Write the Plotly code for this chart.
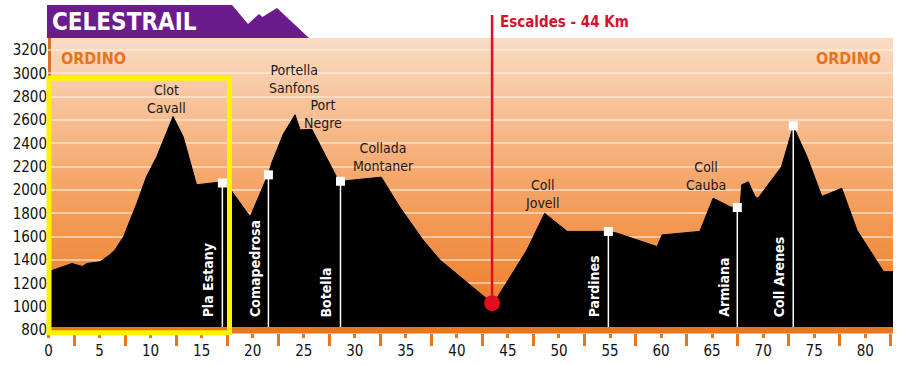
import plotly.graph_objects as go

# ---------------- data ----------------
km = [0, 2.3, 3.3, 3.75, 5.05, 6.0, 6.5, 7.35, 8.65, 9.6, 10.6, 12.2, 13.2, 14.5, 16.5,
      17.0, 17.5, 18.1, 19.75, 21.5, 21.9, 23.0, 24.15, 24.65, 25.6, 25.8, 28.2, 28.6,
      29.2, 32.6, 34.4, 36.7, 38.35, 39.3, 42.6, 43.45, 43.9, 46.2, 46.85, 48.6, 50.8,
      54.0, 54.8, 55.7, 59.6, 60.1, 63.8, 65.1, 66.8, 67.5, 67.75, 67.9, 68.55, 69.2,
      69.5, 71.8, 72.95, 74.3, 75.75, 77.7, 79.2, 81.8, 82.75]
elev = [1300, 1370, 1345, 1370, 1385, 1445, 1485, 1600, 1885, 2115, 2285, 2630, 2455,
        2045, 2065, 2060, 2045, 1970, 1770, 2130, 2240, 2480, 2645, 2515, 2515, 2520,
        2115, 2075, 2080, 2110, 1855, 1570, 1400, 1330, 1085, 1030, 1070, 1400, 1485,
        1800, 1645, 1645, 1645, 1630, 1515, 1615, 1645, 1930, 1855, 1850, 1855, 2045,
        2070, 1945, 1930, 2200, 2545, 2285, 1945, 2015, 1655, 1300, 1300]

wp_names = ["Pla Estany", "Comapedrosa", "Botella", "Pardines", "Armiana", "Coll Arenes"]
wp_km = [17.03, 21.54, 28.6, 54.84, 67.47, 72.95]
wp_elev = [2060, 2130, 2075, 1645, 1850, 2550]

peak_names = ["Clot<br>Cavall", "Portella<br>Sanfons", "Port<br>Negre",
              "Collada<br>Montaner", "Coll<br>Jovell", "Coll<br>Cauba"]
peak_km = [11.6, 24.07, 26.9, 32.8, 48.4, 64.4]
peak_label_elev = [2776, 2951, 2651, 2279, 1966, 2120]

mid_name = "Escaldes - 44 Km"
mid_km = 43.45
mid_elev = 1030

y_ticks = [800, 1000, 1200, 1400, 1600, 1800, 2000, 2200, 2400, 2600, 2800, 3000, 3200]

# ---------------- layout constants ----------------
W, H = 903, 365
ML, MR, MT, MB = 48, 10, 38, 32
X_RANGE = [-0.05, 82.72]
Y_RANGE = [774.3, 3302.9]
PH = H - MT - MB
PW = W - ML - MR


def py(px):
    """pixel row -> paper y"""
    return (H - MB - px) / PH


def px_x(px):
    return (px - ML) / PW


def ypaper(v):
    return (v - Y_RANGE[0]) / (Y_RANGE[1] - Y_RANGE[0])


NARROW = "DejaVu Sans Condensed, DejaVu Sans, sans-serif"
HEAVY = "DejaVu Sans Condensed, DejaVu Sans, sans-serif"

fig = go.Figure()

# terrain
fig.add_trace(go.Scatter(x=km, y=elev, mode="lines", line=dict(color="black", width=1),
                         fill="tozeroy", fillcolor="black", hoverinfo="skip",
                         showlegend=False))

# waypoint lines
lx, ly = [], []
for k, e in zip(wp_km, wp_elev):
    lx += [k, k, None]
    ly += [e, Y_RANGE[0], None]
fig.add_trace(go.Scatter(x=lx, y=ly, mode="lines", line=dict(color="white", width=1.5),
                         hoverinfo="skip", showlegend=False))
fig.add_trace(go.Scatter(x=wp_km, y=wp_elev, mode="markers",
                         marker=dict(symbol="square", size=9, color="white",
                                     line=dict(width=0)),
                         hoverinfo="skip", showlegend=False))

# red checkpoint dot
fig.add_trace(go.Scatter(x=[mid_km], y=[mid_elev], mode="markers",
                         marker=dict(size=16, color="#e2101e", line=dict(width=0)),
                         hoverinfo="skip", showlegend=False))

shapes = []
# background gradient
stops = [(0.0, (249, 220, 196)), (0.45, (245, 170, 112)), (1.0, (237, 116, 26))]


def col(t):
    for (t0, c0), (t1, c1) in zip(stops[:-1], stops[1:]):
        if t0 <= t <= t1:
            f = (t - t0) / (t1 - t0)
            return "rgb(%d,%d,%d)" % tuple(round(a + (b - a) * f) for a, b in zip(c0, c1))
    return "rgb(%d,%d,%d)" % stops[-1][1]


N = 74
for i in range(N):
    top = 1 - i / N
    bot = 1 - (i + 1) / N
    shapes.append(dict(type="rect", xref="paper", yref="paper", x0=0, x1=1.0,
                       y0=bot - 0.002, y1=top, fillcolor=col((i + 0.5) / N),
                       line=dict(width=0), layer="below"))
# left orange border
shapes.append(dict(type="rect", xref="paper", yref="paper", x0=0, x1=3 / PW, y0=0, y1=1,
                   fillcolor="#dc6f22", line=dict(width=0), layer="below"))
# bottom orange band
shapes.append(dict(type="rect", xref="paper", yref="paper", x0=0, x1=1, y0=0, y1=6 / PH,
                   fillcolor="#e8761f", line=dict(width=0), layer="above"))
# red vertical line
shapes.append(dict(type="line", xref="x", yref="paper", x0=mid_km, x1=mid_km,
                   y0=ypaper(mid_elev), y1=py(15), line=dict(color="#d8102a", width=2.5),
                   layer="above"))
# purple header
hdr = [(47, 5), (232, 5), (248, 24), (259, 14), (262.5, 17), (277, 8), (309, 38), (47, 38)]
path = "M " + " L ".join("%.4f,%.4f" % (px_x(a), py(b)) for a, b in hdr) + " Z"
shapes.append(dict(type="path", xref="paper", yref="paper", path=path,
                   fillcolor="#6a1b8c", line=dict(width=0), layer="above"))
# yellow highlight box
shapes.append(dict(type="rect", xref="paper", yref="paper", x0=px_x(49), x1=px_x(229.5),
                   y0=py(332.7), y1=py(78.3), line=dict(color="#fff200", width=5),
                   fillcolor="rgba(0,0,0,0)", layer="above"))

ann = []
ann.append(dict(text="<b>CELESTRAIL</b>", xref="paper", yref="paper", x=px_x(50), y=py(22),
                xanchor="left", yanchor="middle", showarrow=False,
                font=dict(family=HEAVY, size=24, color="white")))
ann.append(dict(text="<b>%s</b>" % mid_name, xref="x", yref="paper", x=mid_km, xshift=6,
                y=py(22), xanchor="left", yanchor="middle", showarrow=False,
                font=dict(family=HEAVY, size=15, color="#d8102a")))
for xp, anchor in [(px_x(59), "left"), (px_x(883), "right")]:
    ann.append(dict(text="<b>ORDINO</b>", xref="paper", yref="paper", x=xp, y=py(58),
                    xanchor=anchor, yanchor="middle", showarrow=False,
                    font=dict(family=HEAVY, size=16, color="#e8731c")))
for name, k, e in zip(peak_names, peak_km, peak_label_elev):
    ann.append(dict(text=name, x=k, y=e, xanchor="center", yanchor="middle",
                    showarrow=False, font=dict(family=NARROW, size=14, color="#1a1a1a")))
for name, k in zip(wp_names, wp_km):
    ann.append(dict(text="<b>%s</b>" % name, x=k, xshift=-4, xref="x", yref="paper",
                    y=py(319), xanchor="right", yanchor="bottom", textangle=-90,
                    showarrow=False, font=dict(family=HEAVY, size=14, color="white")))

fig.update_layout(
    width=W, height=H,
    margin=dict(l=ML, r=MR, t=MT, b=MB, pad=0, autoexpand=False),
    paper_bgcolor="white", plot_bgcolor="#f4a870",
    shapes=shapes, annotations=ann, showlegend=False,
    xaxis=dict(range=X_RANGE, tickmode="linear", tick0=0, dtick=5, ticks="outside",
               ticklen=4, tickwidth=3, tickcolor="#e8761f", showgrid=False,
               zeroline=False, showline=False, automargin=False,
               tickfont=dict(family=NARROW, size=15, color="#111"),
               minor=dict(tick0=0, dtick=2.5, ticks="outside", ticklen=12, tickwidth=3,
                          tickcolor="#e8761f", showgrid=False)),
    yaxis=dict(range=Y_RANGE, tickmode="array", tickvals=y_ticks, ticks="",
               showgrid=True, gridcolor="rgba(255,238,222,0.6)", gridwidth=1.5,
               zeroline=False, showline=False, automargin=False,
               tickfont=dict(family=NARROW, size=15, color="#111")),
)

fig.write_html("out.html", config={"displayModeBar": False},
               post_script="document.body.style.margin='0';document.body.style.padding='0';")
